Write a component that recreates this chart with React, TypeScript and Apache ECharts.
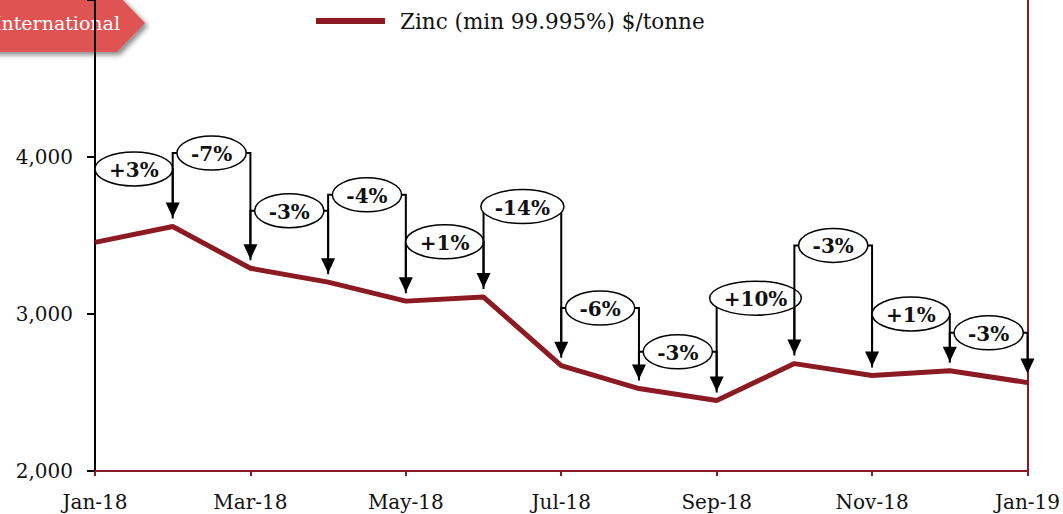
import React, { useEffect, useRef } from "react";
import * as echarts from "echarts";

const months = ["Jan-18", "Feb-18", "Mar-18", "Apr-18", "May-18", "Jun-18", "Jul-18", "Aug-18", "Sep-18", "Oct-18", "Nov-18", "Dec-18", "Jan-19"];
const zincPrices = [3456, 3557, 3291, 3203, 3082, 3108, 2671, 2525, 2449, 2684, 2608, 2639, 2563];
const changeLabels = ["+3%", "-7%", "-3%", "-4%", "+1%", "-14%", "-6%", "-3%", "+10%", "-3%", "+1%", "-3%"];
const bracketLevels = [3924, 4025, 3658, 3759, 3460, 3684, 3038, 2759, 3101, 3437, 3000, 2880];
const seriesName = "Zinc (min 99.995%) $/tonne";
const tagText = "International";

const RED = "#8C1A22";
const LABEL_FONT = "bold 20px 'DejaVu Serif'";

function measure(text: string, font: string): number {
  const c = document.createElement("canvas");
  const ctx = c.getContext("2d");
  if (!ctx) return text.length * 12;
  ctx.font = font;
  return ctx.measureText(text).width;
}

export default function App() {
  const ref = useRef<HTMLDivElement>(null);
  useEffect(() => {
    if (!ref.current) return;
    const chart = echarts.init(ref.current, null, { renderer: "svg" });
    const bracketData = changeLabels.map((_, i) => [i, zincPrices[i], zincPrices[i + 1], bracketLevels[i]]);
    chart.setOption({
      animation: false,
      grid: { left: 95, right: 33, top: -3, bottom: 43, containLabel: false },
      legend: {
        data: [seriesName],
        left: 316,
        top: 10,
        padding: 0,
        icon: "rect",
        itemWidth: 69,
        itemHeight: 6,
        textStyle: { fontFamily: "DejaVu Serif", fontSize: 21.5, color: "#111", padding: [0, 0, 0, 10] },
      },
      xAxis: {
        type: "category",
        data: months,
        boundaryGap: false,
        axisLine: { lineStyle: { color: RED, width: 2 } },
        axisTick: { show: true, interval: 1, length: 5, lineStyle: { color: RED, width: 2 } },
        axisLabel: { interval: 1, margin: 21, fontFamily: "DejaVu Serif", fontSize: 20, color: "#111" },
        splitLine: { show: false },
      },
      yAxis: [
        {
          type: "value",
          min: 2000,
          max: 5000,
          interval: 1000,
          axisLine: { show: true, lineStyle: { color: "#000", width: 2 } },
          axisTick: { show: true, length: 8, lineStyle: { color: "#000", width: 2 } },
          axisLabel: {
            margin: 22,
            fontFamily: "DejaVu Serif",
            fontSize: 20,
            color: "#111",
            formatter: (v: number) => (v >= 5000 ? "" : v.toLocaleString("en-US")),
          },
          splitLine: { show: false },
        },
        {
          type: "value",
          position: "right",
          min: 2000,
          max: 5000,
          interval: 1000,
          axisLine: { show: true, lineStyle: { color: RED, width: 2 } },
          axisTick: { show: false },
          axisLabel: { show: false },
          splitLine: { show: false },
        },
      ],
      series: [
        {
          name: seriesName,
          type: "line",
          data: zincPrices,
          symbol: "none",
          lineStyle: { color: RED, width: 5 },
          itemStyle: { color: RED },
          z: 2,
        },
        {
          name: "changes",
          type: "custom",
          data: bracketData,
          z: 5,
          renderItem: (params: any, api: any) => {
            const i = api.value(0);
            const p0 = api.coord([i, api.value(1)]);
            const p1 = api.coord([i + 1, api.value(2)]);
            const top = api.coord([i, api.value(3)])[1];
            const x0 = p0[0];
            const x1 = p1[0];
            const tipY = p1[1] - 9;
            const headH = 15;
            const label = changeLabels[params.dataIndex];
            const tw = measure(label, LABEL_FONT);
            const cx = (x0 + x1) / 2;
            const lineStyle = { stroke: "#000", lineWidth: 2, fill: "none" };
            return {
              type: "group",
              children: [
                {
                  type: "polyline",
                  shape: { points: [[x0, p0[1] - 8], [x0, top], [x1, top], [x1, tipY - headH + 1]] },
                  style: lineStyle,
                },
                {
                  type: "polygon",
                  shape: { points: [[x1 - 7, tipY - headH], [x1 + 7, tipY - headH], [x1, tipY]] },
                  style: { fill: "#000" },
                },
                {
                  type: "ellipse",
                  shape: { cx, cy: top, rx: tw / 2 + 14, ry: 17 },
                  style: { fill: "#fff", stroke: "#000", lineWidth: 1.5 },
                },
                {
                  type: "text",
                  style: {
                    text: label,
                    x: cx,
                    y: top + 1,
                    align: "center",
                    verticalAlign: "middle",
                    font: LABEL_FONT,
                    fill: "#111",
                  },
                },
              ],
            };
          },
        },
      ],
      graphic: [
        {
          type: "group",
          z: 100,
          children: [
            {
              type: "polygon",
              shape: { points: [[-10, -6], [117, -6], [145, 23], [117, 52], [-10, 52]] },
              style: {
                fill: "#E05252",
                shadowBlur: 5,
                shadowOffsetX: 3,
                shadowOffsetY: 3,
                shadowColor: "rgba(0,0,0,0.45)",
              },
            },
            {
              type: "text",
              style: {
                text: tagText,
                x: 120,
                y: 23,
                align: "right",
                verticalAlign: "middle",
                font: "19px 'DejaVu Serif'",
                fill: "#fff",
              },
            },
          ],
        },
      ],
    });
    return () => chart.dispose();
  }, []);
  return <div ref={ref} style={{ position: "absolute", left: 0, top: 0, width: 1063, height: 514 }} />;
}
